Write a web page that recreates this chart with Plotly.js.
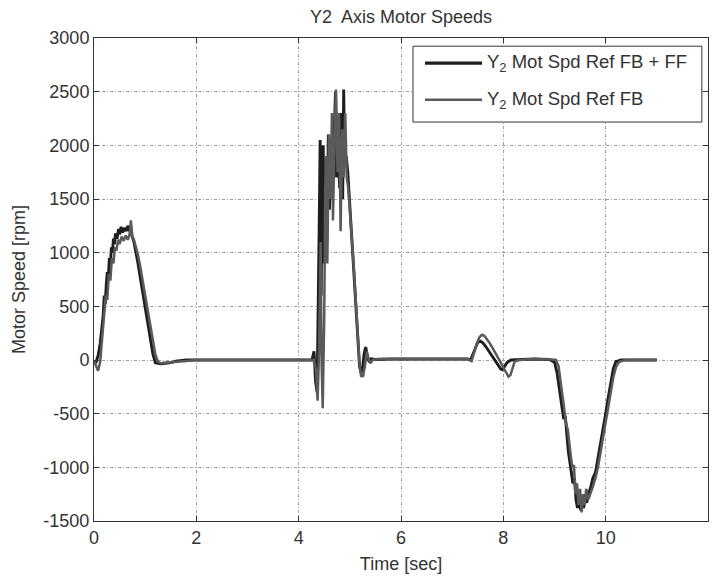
<!DOCTYPE html>
<html>
<head>
<meta charset="utf-8">
<script src="https://cdn.plot.ly/plotly-3.0.1.min.js"></script>
<style>
  html, body { margin: 0; padding: 0; background: #fff; }
  #chart { width: 716px; height: 578px; }
</style>
</head>
<body>
<div id="chart"></div>
<script>
// Y2 axis motor speed: feedback + feedforward reference vs feedback-only reference

const seriesNames = [
  'Y<sub>2</sub> Mot Spd Ref FB + FF',
  'Y<sub>2</sub> Mot Spd Ref FB'
];

// FB + FF reference (time in s, speed in rpm)
const timeFF = [
  0, 0.04, 0.08, 0.12, 0.15, 0.18, 0.2, 0.22, 0.24, 0.26,
  0.28, 0.3, 0.32, 0.34, 0.36, 0.38, 0.4, 0.42, 0.45, 0.48,
  0.5, 0.53, 0.56, 0.6, 0.63, 0.66, 0.7, 0.74, 0.78, 0.82,
  0.86, 0.9, 0.95, 1.0, 1.05, 1.1, 1.15, 1.2, 1.3, 1.4,
  1.5, 1.6, 1.8,
  4.2, 4.26, 4.3, 4.33, 4.36, 4.38, 4.4, 4.42, 4.44, 4.46,
  4.48, 4.5, 4.52, 4.55, 4.58, 4.6, 4.63, 4.66, 4.7, 4.72,
  4.74, 4.77, 4.8, 4.83, 4.86, 4.88, 4.9, 4.93, 4.96, 5.0,
  5.04, 5.08, 5.12, 5.16, 5.19, 5.22, 5.25, 5.28, 5.31, 5.34,
  5.38, 5.42, 5.5, 5.8,
  7.3, 7.36, 7.4, 7.45, 7.5, 7.55, 7.6, 7.65, 7.7, 7.75,
  7.8, 7.85, 7.9, 7.95, 7.98, 8.03, 8.08, 8.15, 8.3, 8.6,
  8.9,
  9.0, 9.05, 9.1, 9.15, 9.18, 9.21, 9.24, 9.27, 9.3, 9.33,
  9.36, 9.39, 9.42, 9.45, 9.48, 9.51, 9.54, 9.57, 9.6, 9.63,
  9.66, 9.7, 9.75, 9.8, 9.85, 9.9, 9.95, 10.0, 10.05, 10.1,
  10.15, 10.2, 10.3, 11.0
];
const speedFF = [
  -30, -20, 40, 150, 280, 420, 600, 520, 700, 820,
  760, 950, 880, 1050, 1000, 1130, 1080, 1180, 1130, 1220,
  1170, 1240, 1190, 1230, 1200, 1250, 1200, 1160, 1100, 1010,
  900, 780, 630, 480, 330, 190, 60, -25, -35, -30,
  -25, -10, 0,
  0, 0, 80, -200, -300, 300, 1200, 2050, 600, 1800,
  2000, 900, 1500, 1100, 2100, 1400, 1850, 1600, 2100, 2500,
  1700, 2000, 1600, 2300, 1500, 2520, 1800, 1900, 1750, 1450,
  1100, 800, 480, 160, -60, -120, -70, 60, 120, 40,
  -20, 10, 5, 10,
  10, 0, 50, 120, 165, 175, 160, 130, 95, 60,
  20, -20, -55, -85, -90, -60, -20, 0, 5, 10,
  5,
  -20, -120, -280, -420, -550, -520, -720, -850, -950, -1050,
  -1150, -1100, -1300, -1380, -1250, -1400, -1300, -1380, -1280, -1330,
  -1250, -1200, -1100, -1050, -920, -780, -640, -500, -350, -200,
  -80, -15, 0, 0
];

// FB-only reference
const timeFB = [
  0, 0.05, 0.08, 0.12, 0.16, 0.2, 0.23, 0.26, 0.29, 0.32,
  0.35, 0.38, 0.41, 0.44, 0.47, 0.5, 0.54, 0.58, 0.62, 0.66,
  0.7, 0.72, 0.75, 0.78, 0.82, 0.86, 0.9, 0.95, 1.0, 1.05,
  1.1, 1.15, 1.2, 1.25, 1.3, 1.4, 1.6, 1.8, 2.0,
  4.2, 4.3, 4.34, 4.37, 4.4, 4.43, 4.45, 4.47, 4.5, 4.52,
  4.54, 4.56, 4.59, 4.62, 4.65, 4.67, 4.7, 4.73, 4.76, 4.79,
  4.82, 4.85, 4.88, 4.91, 4.94, 4.97, 5.0, 5.04, 5.08, 5.12,
  5.16, 5.19, 5.22, 5.26, 5.3, 5.33, 5.36, 5.4, 5.45, 5.55,
  5.8,
  7.3, 7.38, 7.42, 7.48, 7.53, 7.58, 7.63, 7.68, 7.73, 7.78,
  7.85, 7.9, 7.95, 8.0, 8.05, 8.1, 8.14, 8.18, 8.22, 8.3,
  8.6, 8.95,
  9.03, 9.08, 9.12, 9.16, 9.2, 9.23, 9.26, 9.29, 9.32, 9.35,
  9.38, 9.41, 9.44, 9.47, 9.5, 9.53, 9.56, 9.59, 9.62, 9.66,
  9.7, 9.75, 9.8, 9.85, 9.9, 9.95, 10.0, 10.05, 10.1, 10.15,
  10.2, 10.25, 10.3, 10.4, 11.0
];
const speedFB = [
  -10, -60, -100, -20, 200, 420, 600, 560, 800, 740,
  950, 900, 1050, 1020, 1120, 1080, 1150, 1110, 1160, 1120,
  1180, 1300, 1150, 1120, 1060, 980, 880, 740, 600, 450,
  300, 160, 50, -15, -30, -25, -20, -10, 0,
  0, 0, -100, -380, 100, 1100, -50, -450, 400, 1600,
  1900, 900, 2100, 1500, 2300, 1300, 2000, 2520, 1750, 2300,
  1200, 2150, 1700, 2300, 1700, 1600, 1400, 1150, 850, 520,
  200, -40, -150, -150, -40, 80, 20, -30, 0, 10,
  10,
  10, -10, 60, 150, 210, 235, 225, 195, 160, 120,
  65, 20, -25, -70, -115, -155, -140, -70, -15, 0,
  10, 5,
  0, -60, -200, -350, -450, -600, -650, -800, -900, -1000,
  -980, -1250, -1150, -1350, -1200, -1420, -1250, -1350, -1200, -1300,
  -1250, -1180, -1100, -1000, -860, -720, -580, -430, -290, -160,
  -70, -25, -10, 0, 0
];

const xTicks = [0, 2, 4, 6, 8, 10, 12];
const yTicks = [-1500, -1000, -500, 0, 500, 1000, 1500, 2000, 2500, 3000];

const colorFF = '#1e1e1e';
const colorFB = '#5a5a5a';
const font = 'Liberation Sans, Arial, Helvetica, sans-serif';

const traces = [
  { x: timeFF, y: speedFF, type: 'scatter', mode: 'lines', name: seriesNames[0],
    line: { color: colorFF, width: 2.9 }, showlegend: false },
  { x: timeFB, y: speedFB, type: 'scatter', mode: 'lines', name: seriesNames[1],
    line: { color: colorFB, width: 2.5 }, showlegend: false }
];

const axisCommon = {
  showline: true, linecolor: '#333', linewidth: 1, mirror: 'ticks',
  ticks: 'inside', ticklen: 5, tickcolor: '#333', tickwidth: 1,
  showgrid: true, gridcolor: '#a0a0a0', gridwidth: 1, griddash: '3px,2px,1px,2px',
  zeroline: false, tickfont: { family: font, size: 18, color: '#333' }
};

// hand-built legend box in the upper right of the plot area
const legX0 = 0.5195, legX1 = 0.990, legY0 = 0.826, legY1 = 0.983;
const rowY = [0.948, 0.872];
const lineX0 = 0.539, lineX1 = 0.632, textX = 0.637;

const layout = {
  width: 716, height: 578,
  paper_bgcolor: '#fff', plot_bgcolor: '#fff',
  margin: { l: 94, r: 8, t: 38, b: 57 },
  font: { family: font, size: 18, color: '#333' },
  title: { text: 'Y2  Axis Motor Speeds', font: { family: font, size: 18, color: '#333' },
           x: 0.56, xanchor: 'center', y: 0.971, yanchor: 'middle', xref: 'container', yref: 'container' },
  xaxis: Object.assign({}, axisCommon, {
    range: [0, 12], tickvals: xTicks, ticktext: xTicks.map(String),
    title: { text: 'Time [sec]', font: { family: font, size: 18, color: '#333' }, standoff: 10 }
  }),
  yaxis: Object.assign({}, axisCommon, {
    range: [-1500, 3000], tickvals: yTicks, ticktext: yTicks.map(String),
    title: { text: 'Motor Speed [rpm]', font: { family: font, size: 18, color: '#333' }, standoff: 13 }
  }),
  shapes: [
    { type: 'rect', xref: 'paper', yref: 'paper', x0: legX0, x1: legX1, y0: legY0, y1: legY1,
      fillcolor: '#fff', line: { color: '#333', width: 1 }, layer: 'above' },
    { type: 'line', xref: 'paper', yref: 'paper', x0: lineX0, x1: lineX1, y0: rowY[0], y1: rowY[0],
      line: { color: colorFF, width: 3.4 }, layer: 'above' },
    { type: 'line', xref: 'paper', yref: 'paper', x0: lineX0, x1: lineX1, y0: rowY[1], y1: rowY[1],
      line: { color: colorFB, width: 2.4 }, layer: 'above' }
  ],
  annotations: seriesNames.map((name, i) => ({
    xref: 'paper', yref: 'paper', x: textX, y: rowY[i], xanchor: 'left', yanchor: 'middle',
    text: name, showarrow: false, font: { family: font, size: 18.5, color: '#333' }
  }))
};

Plotly.newPlot('chart', traces, layout, { displayModeBar: false, staticPlot: true });
</script>
</body>
</html>
